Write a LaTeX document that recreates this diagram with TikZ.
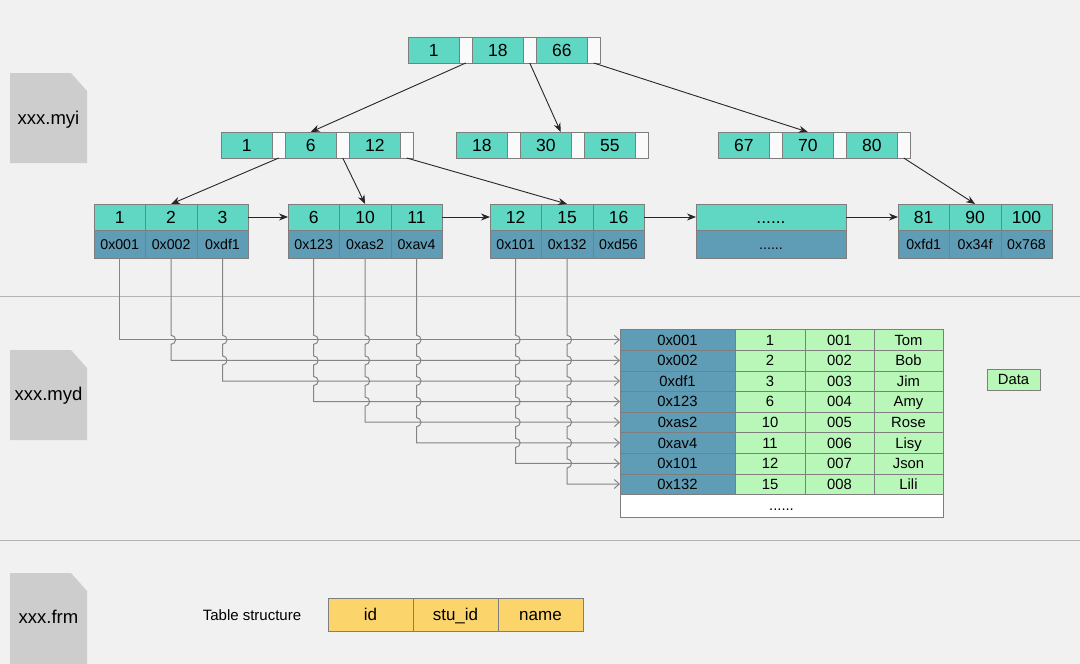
\documentclass[tikz,border=0pt]{standalone}
\usepackage{fontspec}
\setmainfont{Liberation Sans}
\usetikzlibrary{positioning, arrows.meta, calc}
\definecolor{pagebg}{HTML}{F1F1F1}
\definecolor{keyfill}{HTML}{5FD7C3}
\definecolor{ptrfill}{HTML}{5F9DB6}
\definecolor{rowfill}{HTML}{B8F7B8}
\definecolor{colfill}{HTML}{FCD46C}
\definecolor{filefill}{HTML}{CDCDCD}
\definecolor{edgegray}{HTML}{7E7E7E}
\definecolor{linkgray}{HTML}{858585}
\definecolor{sepgray}{HTML}{B4B4B4}

\begin{document}
\begin{tikzpicture}[x=1pt,y=1pt,
  every node/.style={inner sep=0pt,outer sep=0pt},
  key/.style={draw=edgegray,fill=keyfill,minimum width=51.5pt,minimum height=26pt,
              text height=12.5pt,text depth=0pt,font=\fontsize{17.5}{20}\selectfont},
  gap/.style={draw=edgegray,fill=white!96!gray,minimum width=12.5pt,minimum height=26pt},
  leaf/.style={key,minimum width=51.4pt},
  addr/.style={draw=edgegray,fill=ptrfill,minimum width=51.4pt,minimum height=28pt,
               text height=10.2pt,text depth=0pt,font=\fontsize{14.2}{16}\selectfont},
  cell/.style={draw=edgegray,fill=rowfill,minimum height=20.6pt,
               text height=10.6pt,text depth=0pt,font=\fontsize{14.8}{17}\selectfont},
  colbox/.style={draw=edgegray,fill=colfill,minimum width=85pt,minimum height=33pt,
                 text height=12.2pt,text depth=0pt,font=\fontsize{17}{20}\selectfont},
  filelabel/.style={font=\fontsize{18.5}{21}\selectfont},
  tree/.style={-{Stealth[length=9pt,width=7pt]},line width=0.9pt,black!85},
  link/.style={-{Straight Barb[length=5pt,width=9pt]},line width=1pt,linkgray}]

  \fill[pagebg] (0,0) rectangle (1080,-664);
  \useasboundingbox (0,0) rectangle (1080,-664);

  % section lines
  \draw[sepgray,line width=1pt] (0,-296) -- (1080,-296);
  \draw[sepgray,line width=1pt] (0,-540) -- (1080,-540);

  % file icons
  \fill[filefill] (10,-73) -- (71,-73) -- (87,-91) -- (87,-163) -- (10,-163) -- cycle;
  \node[filelabel] (myi) at (48.5,-120) {xxx.myi};
  \fill[filefill] (10,-350) -- (71,-350) -- (87,-368) -- (87,-440) -- (10,-440) -- cycle;
  \node[filelabel] (myd) at (48.5,-396) {xxx.myd};
  \fill[filefill] (10,-573) -- (71,-573) -- (87,-591) -- (87,-664) -- (10,-664) -- cycle;
  \node[filelabel] (frm) at (48.5,-617) {xxx.frm};

  % root
  \node[key,anchor=north west] (r1) at (408,-37) {1};
  \node[gap,right=0pt of r1] (rg1) {};
  \node[key,right=0pt of rg1] (r18) {18};
  \node[gap,right=0pt of r18] (rg2) {};
  \node[key,right=0pt of rg2] (r66) {66};
  \node[gap,right=0pt of r66] (rg3) {};

  % second level
  \node[key,anchor=north west] (b1) at (221,-132) {1};
  \node[gap,right=0pt of b1] (bg1) {};
  \node[key,right=0pt of bg1] (b6) {6};
  \node[gap,right=0pt of b6] (bg2) {};
  \node[key,right=0pt of bg2] (b12) {12};
  \node[gap,right=0pt of b12] (bg3) {};

  \node[key,anchor=north west] (m18) at (456,-132) {18};
  \node[gap,right=0pt of m18] (mg1) {};
  \node[key,right=0pt of mg1] (m30) {30};
  \node[gap,right=0pt of m30] (mg2) {};
  \node[key,right=0pt of mg2] (m55) {55};
  \node[gap,right=0pt of m55] (mg3) {};

  \node[key,anchor=north west] (c67) at (718,-132) {67};
  \node[gap,right=0pt of c67] (cg1) {};
  \node[key,right=0pt of cg1] (c70) {70};
  \node[gap,right=0pt of c70] (cg2) {};
  \node[key,right=0pt of cg2] (c80) {80};
  \node[gap,right=0pt of c80] (cg3) {};

  % leaves
  \node[leaf,anchor=north west] (k1) at (94,-204) {1};
  \node[leaf,right=0pt of k1] (k2) {2};
  \node[leaf,right=0pt of k2] (k3) {3};
  \node[addr,below=0pt of k1] (v1) {0x001};
  \node[addr,below=0pt of k2] (v2) {0x002};
  \node[addr,below=0pt of k3] (v3) {0xdf1};

  \node[leaf,anchor=north west] (k6) at (288,-204) {6};
  \node[leaf,right=0pt of k6] (k10) {10};
  \node[leaf,right=0pt of k10] (k11) {11};
  \node[addr,below=0pt of k6] (v6) {0x123};
  \node[addr,below=0pt of k10] (v10) {0xas2};
  \node[addr,below=0pt of k11] (v11) {0xav4};

  \node[leaf,anchor=north west] (k12) at (490,-204) {12};
  \node[leaf,right=0pt of k12] (k15) {15};
  \node[leaf,right=0pt of k15] (k16) {16};
  \node[addr,below=0pt of k12] (v12) {0x101};
  \node[addr,below=0pt of k15] (v15) {0x132};
  \node[addr,below=0pt of k16] (v16) {0xd56};

  \node[key,minimum width=150pt,anchor=north west] (dk) at (696,-204) {......};
  \node[addr,minimum width=150pt,below=0pt of dk] (dv) {......};

  \node[leaf,anchor=north west] (k81) at (898,-204) {81};
  \node[leaf,right=0pt of k81] (k90) {90};
  \node[leaf,right=0pt of k90] (k100) {100};
  \node[addr,below=0pt of k81] (v81) {0xfd1};
  \node[addr,below=0pt of k90] (v90) {0x34f};
  \node[addr,below=0pt of k100] (v100) {0x768};

  % tree edges
  \draw[tree] (rg1.south) -- (b6.north);
  \draw[tree] (rg2.south) -- ([xshift=15pt]m30.north);
  \draw[tree] (rg3.south) -- (c70.north);
  \draw[tree] (bg1.south) -- (k2.north);
  \draw[tree] (bg2.south) -- (k10.north);
  \draw[tree] (bg3.south) -- (k15.north);
  \draw[tree] (cg3.south) -- (k90.north);
  \draw[tree] (k3.east) -- (k6.west);
  \draw[tree] (k11.east) -- (k12.west);
  \draw[tree] (k16.east) -- (dk.west);
  \draw[tree] (dk.east) -- (k81.west);

  % data file rows
  \foreach \a/\i/\s/\n [count=\k] in {0x001/1/001/Tom, 0x002/2/002/Bob,
      0xdf1/3/003/Jim, 0x123/6/004/Amy, 0xas2/10/005/Rose, 0xav4/11/006/Lisy,
      0x101/12/007/Json, 0x132/15/008/Lili} {
    \node[cell,fill=ptrfill,minimum width=115pt,anchor=north west]
      (d\k) at (620,{-329.5-20.6*(\k-1)}) {\a};
    \node[cell,minimum width=70pt,right=0pt of d\k] (i\k) {\i};
    \node[cell,minimum width=69pt,right=0pt of i\k] (s\k) {\s};
    \node[cell,minimum width=69pt,right=0pt of s\k] (n\k) {\n};
  }
  \node[cell,fill=white,minimum width=323pt,minimum height=22.5pt,anchor=north west]
    (dmore) at (d8.south west) {......};
  \draw[edgegray] (d1.north west) rectangle (dmore.south east);

  \node[cell,minimum width=53pt,minimum height=21pt] (legend) at (1013.5,-379.5) {Data};

  % pointers into the data file
  \draw[link] (v1.south) |- (d1.west);
  \foreach \v/\m/\n in {v2/2/1, v3/3/2, v6/4/3, v10/5/4, v11/6/5, v12/7/6, v15/8/7}
    \draw[link] (\v.south)
      \foreach \j in {1,...,\n} {
        -- ($(\v.south |- d\j.west)+(0,4.5)$) arc[start angle=90,end angle=-90,radius=4.5]
      } -- (\v.south |- d\m.west) -- (d\m.west);

  % table structure
  \node[font=\fontsize{15}{18}\selectfont] (tstruct) at (252,-615) {Table structure};
  \node[colbox,anchor=north west] (fid) at (328,-598) {id};
  \node[colbox,right=0pt of fid] (fstu) {stu\_id};
  \node[colbox,right=0pt of fstu] (fname) {name};
\end{tikzpicture}
\end{document}
